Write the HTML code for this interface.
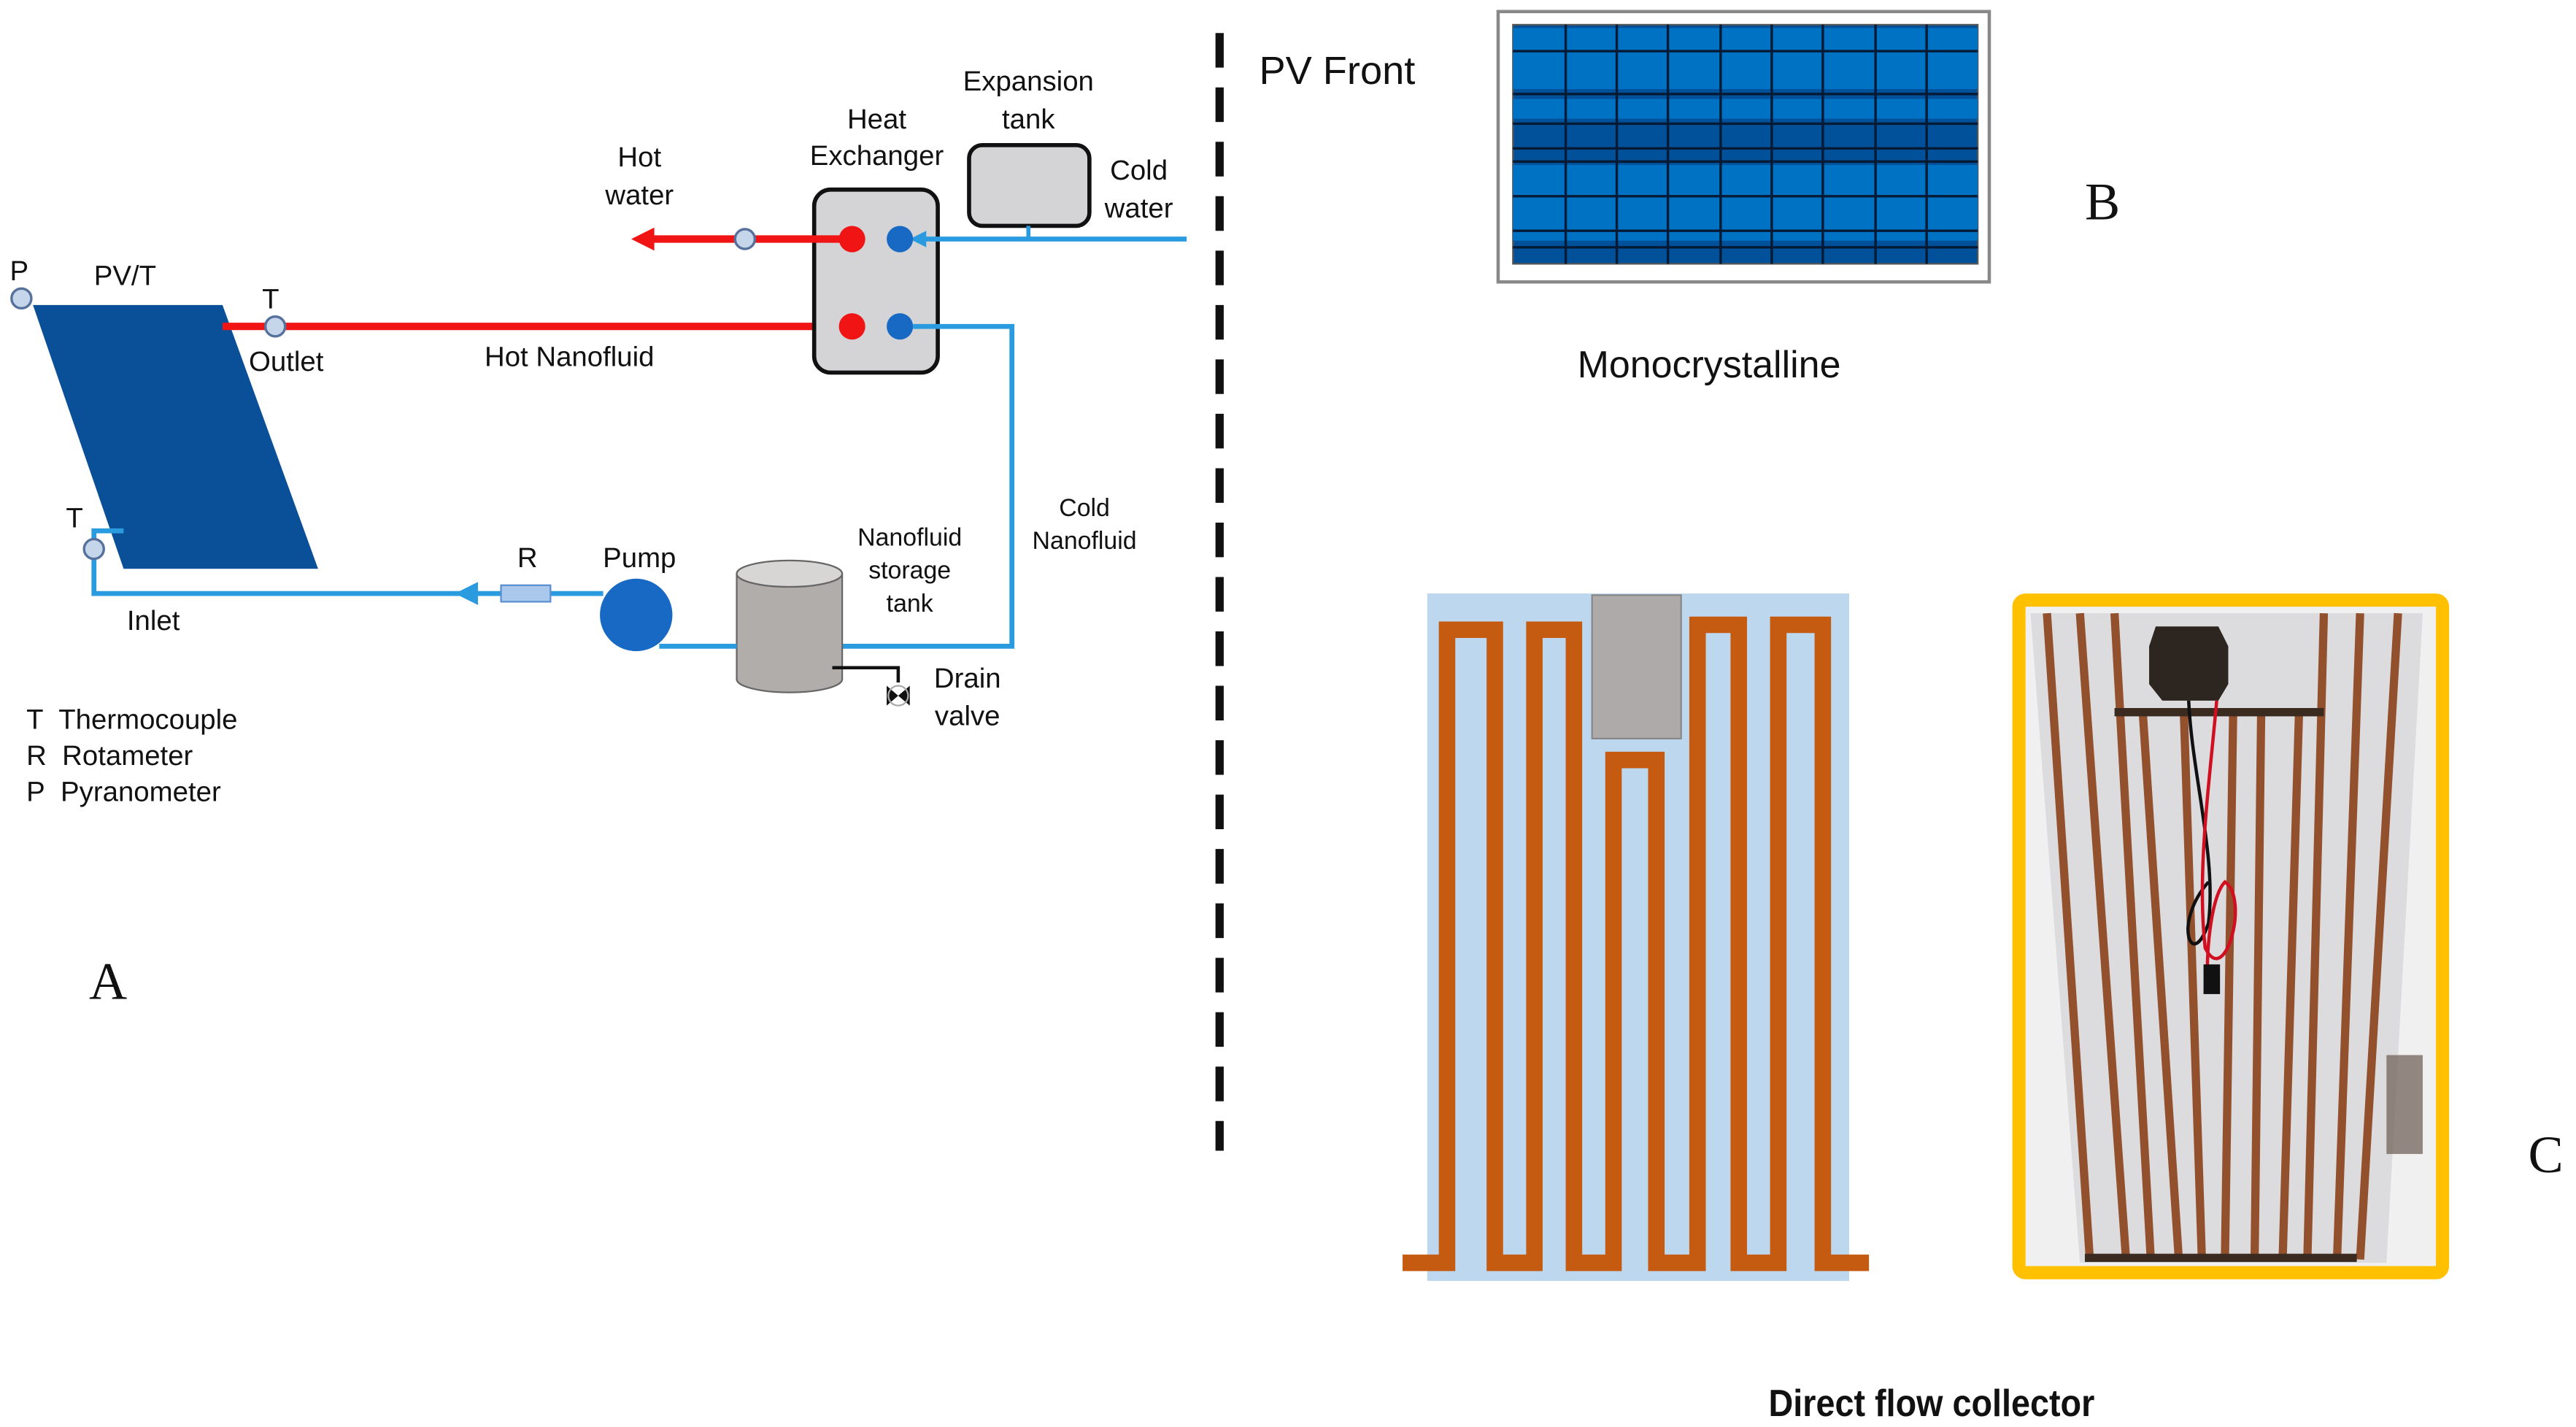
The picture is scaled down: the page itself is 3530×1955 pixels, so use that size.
<!DOCTYPE html>
<html><head><meta charset="utf-8"><style>
html,body{margin:0;padding:0;background:#fff;}
svg{display:block;}
text{font-family:"Liberation Sans",sans-serif;fill:#111;}
</style></head><body>
<svg width="3530" height="1955" viewBox="0 0 1563 865.6" xmlns="http://www.w3.org/2000/svg">
<!-- dashed divider -->
<line x1="740" y1="20" x2="740" y2="698" stroke="#111" stroke-width="5" stroke-dasharray="21,12"/>

<!-- PV panel -->
<polygon points="20,185 135,185 193,345 75,345" fill="#0a5098"/>
<circle cx="13" cy="181" r="6" fill="#c5d5ea" stroke="#55719c" stroke-width="1.5"/>
<text x="6" y="170" font-size="17">P</text>
<text x="57" y="173" font-size="17">PV/T</text>

<!-- hot nanofluid line -->
<line x1="135" y1="198" x2="498" y2="198" stroke="#f01414" stroke-width="4.5"/>
<polygon points="497,190 511,198 497,206" fill="#f01414"/>
<circle cx="167" cy="198" r="6" fill="#c5d5ea" stroke="#55719c" stroke-width="1.5"/>
<text x="159" y="187" font-size="17">T</text>
<text x="151" y="225" font-size="17">Outlet</text>
<text x="294" y="222" font-size="17">Hot Nanofluid</text>

<!-- heat exchanger -->
<rect x="494" y="115" width="75" height="111" rx="10" fill="#d4d3d6" stroke="#111" stroke-width="2.5"/>
<text x="532" y="78" font-size="17" text-anchor="middle">Heat</text>
<text x="532" y="100" font-size="17" text-anchor="middle">Exchanger</text>
<!-- hot water -->
<line x1="394" y1="145" x2="517" y2="145" stroke="#f01414" stroke-width="4.5"/>
<polygon points="397,138 383,145 397,152" fill="#f01414"/>
<circle cx="452" cy="145" r="6" fill="#c5d5ea" stroke="#55719c" stroke-width="1.5"/>
<text x="388" y="101" font-size="17" text-anchor="middle">Hot</text>
<text x="388" y="124" font-size="17" text-anchor="middle">water</text>
<!-- expansion tank -->
<rect x="588" y="88" width="73" height="49" rx="8" fill="#d4d3d6" stroke="#111" stroke-width="2.5"/>
<text x="624" y="55" font-size="17" text-anchor="middle">Expansion</text>
<text x="624" y="78" font-size="17" text-anchor="middle">tank</text>
<line x1="624" y1="137" x2="624" y2="145" stroke="#2b9be0" stroke-width="2.5"/>
<line x1="555" y1="145" x2="720" y2="145" stroke="#2b9be0" stroke-width="3"/>
<polygon points="562,140 552,145 562,150" fill="#2b9be0"/>
<text x="691" y="109" font-size="17" text-anchor="middle">Cold</text>
<text x="691" y="132" font-size="17" text-anchor="middle">water</text>
<!-- exchanger ports -->
<circle cx="517" cy="145" r="8" fill="#f01414"/>
<circle cx="546" cy="145" r="8" fill="#1769c4"/>
<circle cx="517" cy="198" r="8" fill="#f01414"/>
<circle cx="546" cy="198" r="8" fill="#1769c4"/>

<!-- cold nanofluid loop -->
<polyline points="554,198 614,198 614,392 505,392" fill="none" stroke="#2b9be0" stroke-width="3"/>
<text x="658" y="313" font-size="15" text-anchor="middle">Cold</text>
<text x="658" y="333" font-size="15" text-anchor="middle">Nanofluid</text>

<!-- storage tank -->
<path d="M447,348 L447,412 A32,8 0 0 0 511,412 L511,348 Z" fill="#b1adab" stroke="#666" stroke-width="1"/>
<ellipse cx="479" cy="348" rx="32" ry="8" fill="#d8d6d5" stroke="#666" stroke-width="1"/>
<text x="552" y="331" font-size="15" text-anchor="middle">Nanofluid</text>
<text x="552" y="351" font-size="15" text-anchor="middle">storage</text>
<text x="552" y="371" font-size="15" text-anchor="middle">tank</text>
<polyline points="505,405 545,405 545,414" fill="none" stroke="#111" stroke-width="2"/>
<polygon points="538,416 545,422 538,428" fill="#111"/>
<polygon points="552,416 545,422 552,428" fill="#111"/>
<circle cx="545" cy="422" r="6" fill="none" stroke="#aaa" stroke-width="1"/>
<text x="587" y="417" font-size="17" text-anchor="middle">Drain</text>
<text x="587" y="440" font-size="17" text-anchor="middle">valve</text>

<!-- pump -->
<line x1="400" y1="392" x2="447" y2="392" stroke="#2b9be0" stroke-width="3"/>
<circle cx="386" cy="373" r="22" fill="#1769c4"/>
<text x="388" y="344" font-size="17" text-anchor="middle">Pump</text>
<polyline points="366,360 57,360 57,322 75,322" fill="none" stroke="#2b9be0" stroke-width="3"/>
<polygon points="290,353 276,360 290,367" fill="#2b9be0"/>
<rect x="304" y="355" width="30" height="10" fill="#a9c8ec" stroke="#5b8fcf" stroke-width="1"/>
<text x="320" y="344" font-size="17" text-anchor="middle">R</text>
<circle cx="57" cy="333" r="6" fill="#c5d5ea" stroke="#55719c" stroke-width="1.5"/>
<text x="40" y="320" font-size="17">T</text>
<text x="77" y="382" font-size="17">Inlet</text>

<!-- legend -->
<text x="16" y="442" font-size="17">T&#160; Thermocouple</text>
<text x="16" y="464" font-size="17">R&#160; Rotameter</text>
<text x="16" y="486" font-size="17">P&#160; Pyranometer</text>
<text x="54" y="606" font-size="32" style="font-family:'Liberation Serif',serif">A</text>

<!-- B panel -->
<text x="764" y="51" font-size="24">PV Front</text>
<rect x="909" y="7" width="298" height="164" fill="#fff" stroke="#888" stroke-width="2"/>
<rect x="918" y="15" width="282" height="145" fill="#005199" stroke="#555" stroke-width="1"/>
<rect x="918" y="17" width="282" height="37" fill="#0072c4"/>
<rect x="918" y="60" width="282" height="12" fill="#0072c4"/>
<rect x="918" y="100" width="282" height="46" fill="#0072c4"/>
<g stroke="#041a35" stroke-width="1.5">
<line x1="918" y1="31" x2="1200" y2="31"/>
<line x1="918" y1="57" x2="1200" y2="57"/>
<line x1="918" y1="75" x2="1200" y2="75"/>
<line x1="918" y1="90" x2="1200" y2="90"/>
<line x1="918" y1="98" x2="1200" y2="98"/>
<line x1="918" y1="119" x2="1200" y2="119"/>
<line x1="918" y1="140" x2="1200" y2="140"/>
<line x1="918" y1="150" x2="1200" y2="150"/>
<line x1="950" y1="15" x2="950" y2="160"/>
<line x1="981" y1="15" x2="981" y2="160"/>
<line x1="1012" y1="15" x2="1012" y2="160"/>
<line x1="1044" y1="15" x2="1044" y2="160"/>
<line x1="1075" y1="15" x2="1075" y2="160"/>
<line x1="1106" y1="15" x2="1106" y2="160"/>
<line x1="1138" y1="15" x2="1138" y2="160"/>
<line x1="1169" y1="15" x2="1169" y2="160"/>
</g>
<text x="1265" y="133" font-size="32" style="font-family:'Liberation Serif',serif">B</text>
<text x="1037" y="229" font-size="23" text-anchor="middle">Monocrystalline</text>

<!-- serpentine -->
<rect x="866" y="360" width="256" height="417" fill="#bdd7ee"/>
<rect x="966" y="361" width="54" height="87" fill="#aeaaaa" stroke="#888" stroke-width="1"/>
<path d="M851,766 H878 V382 H907 V766 H931 V382 H955 V766 H979 V461 H1005 V766 H1030 V379 H1055 V766 H1079 V379 H1106 V766 H1134" fill="none" stroke="#c55a11" stroke-width="10"/>

<!-- photo C -->
<rect x="1225" y="364" width="257" height="408" rx="4" fill="#f0f0f0" stroke="#ffc000" stroke-width="8"/>
<polygon points="1232,372 1470,372 1448,766 1262,766" fill="#dcdcdf"/>
<g stroke="#93502c" stroke-width="5" fill="none">
<line x1="1242" y1="372" x2="1268" y2="764"/>
<line x1="1262" y1="372" x2="1290" y2="764"/>
<line x1="1283" y1="372" x2="1305" y2="764"/>
<line x1="1300" y1="430" x2="1322" y2="764"/>
<line x1="1325" y1="430" x2="1336" y2="764"/>
<line x1="1355" y1="430" x2="1350" y2="764"/>
<line x1="1372" y1="430" x2="1368" y2="764"/>
<line x1="1395" y1="430" x2="1385" y2="764"/>
<line x1="1410" y1="372" x2="1400" y2="764"/>
<line x1="1432" y1="372" x2="1418" y2="764"/>
<line x1="1455" y1="372" x2="1432" y2="764"/>
</g>
<line x1="1283" y1="432" x2="1410" y2="432" stroke="#3a2a20" stroke-width="5"/>
<line x1="1265" y1="763" x2="1430" y2="763" stroke="#3a2a20" stroke-width="5"/>
<path d="M1308,380 H1346 L1352,392 V415 L1346,425 H1312 L1304,415 V392 Z" fill="#2d2620"/>
<path d="M1328,425 C1330,470 1345,520 1340,560 C1330,590 1318,560 1340,535" fill="none" stroke="#111" stroke-width="2"/>
<path d="M1345,425 C1340,480 1333,530 1338,575 C1350,600 1365,545 1350,535 C1340,545 1338,590 1340,600" fill="none" stroke="#d01020" stroke-width="2"/>
<rect x="1337" y="585" width="10" height="18" fill="#111"/>
<rect x="1448" y="640" width="22" height="60" fill="#6a5a50" opacity="0.7"/>
<text x="1534" y="711" font-size="32" style="font-family:'Liberation Serif',serif">C</text>
<text x="1172" y="859" font-size="23" font-weight="bold" text-anchor="middle" transform="translate(1172,0) scale(0.9,1) translate(-1172,0)">Direct flow collector</text>
</svg>
</body></html>
